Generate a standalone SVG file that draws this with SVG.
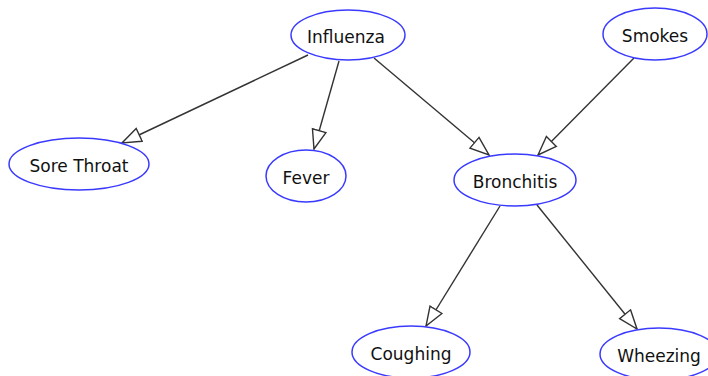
<svg xmlns="http://www.w3.org/2000/svg" width="708" height="376" viewBox="0 0 708 376">
<style>
.node ellipse{fill:#fff;stroke:#3a3aff;stroke-width:1.5}
.node text{font-family:"DejaVu Sans",Verdana,sans-serif;font-size:17px;fill:#111;text-anchor:middle;dominant-baseline:central}
.edge{stroke:#333;stroke-width:1.4;fill:none;marker-end:url(#arr)}
</style>
<defs>
<marker id="arr" markerUnits="userSpaceOnUse" markerWidth="22" markerHeight="18" refX="20" refY="8" orient="auto" viewBox="0 0 22 16">
<path d="M1,1 L20,8 L1,15 Z" fill="#fff" stroke="#333" stroke-width="1.4"/>
</marker>
</defs>
<rect width="708" height="376" fill="#fff"/>
<g id="connectors">
<line class="edge" x1="308" y1="55" x2="122" y2="143"/>
<line class="edge" x1="339" y1="61" x2="314" y2="149"/>
<line class="edge" x1="374" y1="58" x2="489" y2="155"/>
<line class="edge" x1="634" y1="58" x2="538" y2="155"/>
<line class="edge" x1="500" y1="206" x2="426" y2="326"/>
<line class="edge" x1="537" y1="205" x2="637" y2="329"/>
</g>
<g id="influenza" class="node"><ellipse cx="348" cy="35" rx="57" ry="25"/><text x="346" y="37">Influenza</text></g>
<g id="smokes" class="node"><ellipse cx="655" cy="34" rx="52" ry="26"/><text x="655" y="36">Smokes</text></g>
<g id="sore-throat" class="node"><ellipse cx="79" cy="164" rx="70" ry="26"/><text x="79" y="166">Sore Throat</text></g>
<g id="fever" class="node"><ellipse cx="306" cy="176" rx="40" ry="26"/><text x="306" y="178">Fever</text></g>
<g id="bronchitis" class="node"><ellipse cx="515" cy="180" rx="61" ry="26"/><text x="515" y="182">Bronchitis</text></g>
<g id="coughing" class="node"><ellipse cx="411" cy="352" rx="59" ry="26"/><text x="411" y="354">Coughing</text></g>
<g id="wheezing" class="node"><ellipse cx="659" cy="354" rx="59" ry="26"/><text x="659" y="356">Wheezing</text></g>
</svg>
